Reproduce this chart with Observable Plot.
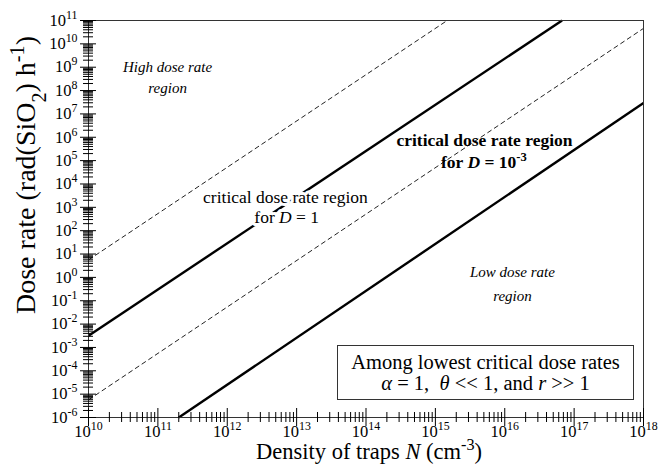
<!DOCTYPE html>
<html>
<head>
<meta charset="utf-8">
<script src="https://cdn.jsdelivr.net/npm/d3@7"></script>
<script src="https://cdn.jsdelivr.net/npm/@observablehq/plot@0.6"></script>
<style>
  body { margin: 0; background: #fff; }
  #chart { position: relative; width: 659px; height: 472px; font-family: "Liberation Serif", "Times New Roman", serif; }
  #note {
    position: absolute; left: 337px; top: 345px; width: 297px; height: 55px;
    box-sizing: border-box; padding-top: 6px;
    border: 1px solid #333; background: #fff;
    text-align: center; font-size: 20.5px; line-height: 21px; color: #000; white-space: nowrap;
    font-family: "Liberation Serif", "Times New Roman", serif;
  }
</style>
</head>
<body>
<div id="chart">
  <div id="note">Among lowest critical dose rates<br><i>α</i> = 1,&nbsp; <i>θ</i> &lt;&lt; 1, and <i>r</i> &gt;&gt; 1</div>
</div>
<script>
// Axis ticks (decades)
const densityTicks = [1e10, 1e11, 1e12, 1e13, 1e14, 1e15, 1e16, 1e17, 1e18];
const doseTicks = [1e-6, 1e-5, 1e-4, 1e-3, 1e-2, 1e-1, 1e0, 1e1, 1e2, 1e3, 1e4, 1e5, 1e6, 1e7, 1e8, 1e9, 1e10, 1e11];

// Boundary lines of the critical dose rate regions (end points)
const criticalD   = ["1", "1", "1e-3", "1e-3"];
const boundary    = ["high", "low", "high", "low"];
const densityFrom = [1e10, 1e10, 1e10, 2e11];
const doseFrom    = [5.6, 3.2e-3, 5.7e-6, 1e-6];
const densityTo   = [1.48e15, 6.7e16, 1e18, 1e18];
const doseTo      = [1e11, 1e11, 4.6e10, 2.9e7];

// Region annotations (one entry per text line)
const noteText  = ["*High dose rate*", "*region*",
                   "critical dose rate region", "for *D* = 1",
                   "critical dose rate region", "for *D* = 10^{-3}",
                   "*Low dose rate*", "*region*"];
const noteGroup = ["region", "region", "D1", "D1", "D3", "D3", "region", "region"];
const noteN     = [1.38e11, 1.38e11, 6.9e12, 7.2e12, 5.1e15, 5.0e15, 1.29e16, 1.29e16];
const noteDose  = [9.8e8, 1.23e8, 2.6e3, 3.7e2, 7.2e5, 8.3e4, 1.6, 0.15];

const rows = criticalD.map((D, i) => ({
  D, boundary: boundary[i],
  n0: densityFrom[i], d0: doseFrom[i], n1: densityTo[i], d1: doseTo[i]
}));
const notes = noteText.map((text, i) => ({text, group: noteGroup[i], N: noteN[i], dose: noteDose[i]}));

const minor = ticks => ticks.slice(0, -1).flatMap(d => d3.range(2, 10).map(m => m * d));
const xMinor = minor(densityTicks);
const yMinor = minor(doseTicks);
const powerLabel = d => `10^{${Math.round(Math.log10(d))}}`;
const blank = () => "";

const svg = Plot.plot({
  width: 659,
  height: 472,
  marginLeft: 88,
  marginRight: 16,
  marginTop: 20,
  marginBottom: 55,
  style: {fontFamily: "'Liberation Serif', 'Times New Roman', serif", fontSize: "15px", background: "#fff", color: "#000"},
  x: {type: "log", domain: [1e10, 1e18], axis: null, label: null},
  y: {type: "log", domain: [1e-6, 1e11], axis: null, label: null},
  marks: [
    // boundary lines
    Plot.link(rows.filter(d => d.boundary === "high"), {
      x1: "n0", y1: "d0", x2: "n1", y2: "d1",
      stroke: "#222", strokeWidth: 1, strokeDasharray: "5,3"
    }),
    Plot.link(rows.filter(d => d.boundary === "low"), {
      x1: "n0", y1: "d0", x2: "n1", y2: "d1",
      stroke: "#000", strokeWidth: 2.4
    }),
    Plot.frame({stroke: "#333", strokeWidth: 1}),
    // y axis: crossing ticks and power-of-ten labels
    Plot.axisY({ticks: yMinor, tickSize: 10, dx: 5, tickFormat: blank, stroke: "#000", label: null}),
    Plot.axisY({ticks: doseTicks, tickSize: 16, dx: 8, tickFormat: blank, stroke: "#000", label: null}),
    Plot.axisY({ticks: doseTicks, tickSize: 0, tickPadding: 11, tickFormat: powerLabel, fontSize: 16.5, label: null}),
    // x axis
    Plot.axisX({ticks: xMinor, tickSize: 10, dy: -5, tickFormat: blank, stroke: "#000", label: null}),
    Plot.axisX({ticks: densityTicks, tickSize: 18, dy: -9, tickFormat: blank, stroke: "#000", label: null}),
    Plot.axisX({ticks: densityTicks, tickSize: 0, tickPadding: 8, tickFormat: powerLabel, fontSize: 16.5, label: null}),
    // axis titles
    Plot.text(["Dose rate (rad(SiO_{2}) h^{-1})"], {
      text: d => d, frameAnchor: "left", textAnchor: "middle", lineAnchor: "middle",
      rotate: -90, dx: -62, dy: -44, fontSize: 28
    }),
    Plot.text(["Density of traps *N* (cm^{-3})"], {
      text: d => d, frameAnchor: "bottom", lineAnchor: "middle", dx: 3, dy: 34, fontSize: 22.5
    }),
    // region annotations
    Plot.text(notes.filter(d => d.group === "region"), {x: "N", y: "dose", text: "text", fontSize: 15}),
    Plot.text(notes.filter(d => d.group === "D1"), {
      x: "N", y: "dose", text: "text", fontSize: 17.5, stroke: "#fff", strokeWidth: 6, fill: "#000"
    }),
    Plot.text(notes.filter(d => d.group === "D3"), {x: "N", y: "dose", text: "text", fontSize: 17.5, fontWeight: "bold"})
  ]
});

// Render *italic*, ^{superscript} and _{subscript} markup inside SVG text
const NS = "http://www.w3.org/2000/svg";
svg.querySelectorAll("text").forEach(t => {
  const s = t.textContent;
  if (!/\*|\^\{|_\{/.test(s)) return;
  const parts = s.split(/(\*[^*]+\*|\^\{[^}]+\}|_\{[^}]+\})/).filter(p => p !== "");
  t.textContent = "";
  for (const p of parts) {
    const span = document.createElementNS(NS, "tspan");
    if (p.startsWith("*")) {
      span.setAttribute("font-style", "italic");
      span.textContent = p.slice(1, -1);
    } else if (p.startsWith("^{")) {
      span.setAttribute("baseline-shift", "super");
      span.setAttribute("font-size", "72%");
      span.textContent = p.slice(2, -1);
    } else if (p.startsWith("_{")) {
      span.setAttribute("baseline-shift", "sub");
      span.setAttribute("font-size", "72%");
      span.textContent = p.slice(2, -1);
    } else {
      span.textContent = p;
    }
    t.appendChild(span);
  }
});

document.getElementById("chart").prepend(svg);
</script>
</body>
</html>
